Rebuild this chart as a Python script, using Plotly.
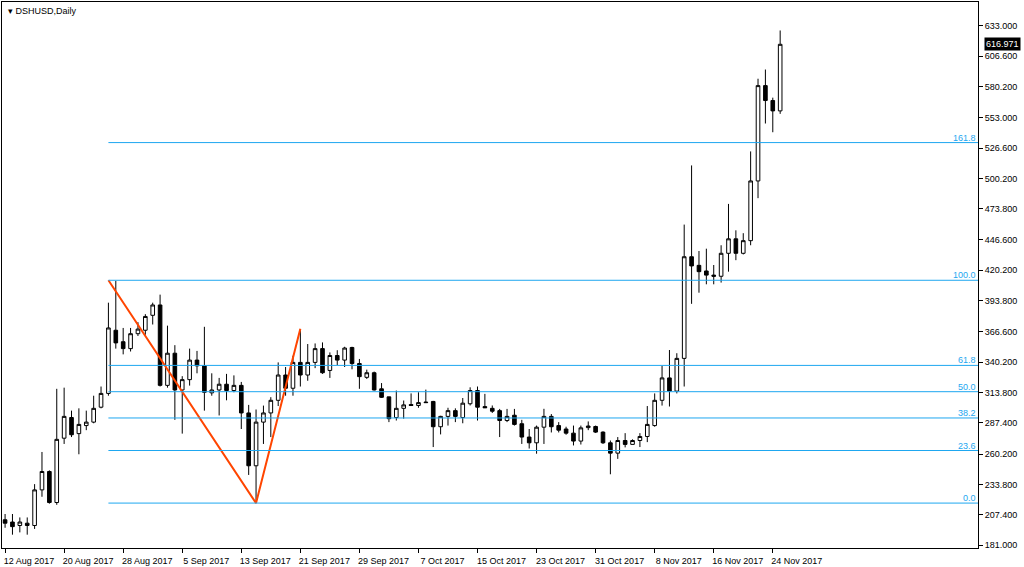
import pandas as pd
import plotly.graph_objects as go

start_date = "2017-08-12"
opens  = [203,201,198,200,198,229,245,218,274,292,278,285,288,301,313,368,358,352,365,368,381,390,320,348,316,325,342,337,313.5,316,321,315.5,320,296,250,288,296,307,329,317.5,340,329,340,
          352,333,346,342,353,339,327,331,317,310,292,300,303.3,302.5,305.5,306,284,293,298,292,304,315.5,301.5,300,298,289.4,294,286.6,275,270,283.6,293,285,282,278.4,271.5,283.2,284.2,279.3,270,261,272,268.6,272,275.5,
          285,307,326.5,315,343.5,432,424.5,419.6,416,415,435,447.6,435,446,498,581,568,559]
closes = [200,197,201,198,229,245,218,273,293,277,286,288,300,313,370,357,352,365,369,380,390,320,348,316,325,342,337,314,316,321,315.5,320,296,250,288,296,307,329,317.5,340,329,340,352,
          331,346,342,352.5,339,327.6,331,316,309.6,291,300,303,302.5,305,305,284,293,298,293,304.5,315.5,301,300.5,297.5,289.4,293,286,275,270,283.6,293,284,281,278.4,271.5,283,284.6,279.3,270,261,272,268.6,272,275.5,286,
          307,326.5,315,343.5,432,424,419,416,415,435,447.6,435,446,498,581,568,559,616.971]
highs  = [208,208,205,205,234,262,246,317,318,298,300,298,311,319,392,411,370,370,375,382,392,399,372,355,328,352,350,371,330.5,326.5,330,328.7,323,303,299,302.4,309.7,340,336,345.8,369,356,356.5,
          357.4,348.7,350.6,353.6,353.6,343,333.7,332,322,310,315.5,306.8,313,314,316.3,306.5,293.5,300.5,300,309,318.3,319,312.6,302.5,299.5,299.5,299.5,290,282,285,299.6,295,288,284,285,285,288.6,285,280,272,275,278.4,273,278.4,302,
          313,337,350.8,348,460,511.5,437,439,424.8,442,478,455,452.5,523.7,587,595,570.5,629]
lows   = [196,190,192,190,195,223,217,216,269,275,260,281,287,300,311,352,347,349.5,363,364,373,319,318,290,278,319.8,330.5,298,311,293.8,307,314,282,242,217.5,269,275,302,311,311,319,324,335,
          330,326.5,337.6,336,334,317,325.6,315.5,309,288,289.4,291,302,300.5,305,266.3,277.3,285,288,287,302.5,289.4,300.5,296,275,288,285,269,265,260.5,269,279,279,277,267.7,268.5,281,278.5,269,242.6,256,266,268.6,266.3,270.6,
          284,302.4,301.6,313,319,391,400.7,408,408,409.5,419,429,434,442,483,548,540.4,556.4]
dates = pd.date_range(start_date, periods=len(opens), freq="D")

fib_low, fib_high = 217.5, 411.5
fib_levels = [0.0, 23.6, 38.2, 50.0, 61.8, 100.0, 161.8]
fib_start = "2017-08-26"
zig_dates = ["2017-08-26", "2017-09-15", "2017-09-21"]
zig_prices = [411.5, 217.5, 369.3]
tick_prices = [181.0, 207.4, 233.8, 260.2, 287.4, 313.8, 340.2, 366.6, 393.8, 420.2,
               446.6, 473.8, 500.2, 526.6, 553.0, 580.2, 606.6, 633.0]
xtick_dates = pd.date_range(start_date, "2017-11-24", freq="8D")

BLUE = "#1EA7F0"
FONT = "Liberation Sans"
fig = go.Figure()
fig.add_trace(go.Candlestick(
    x=dates, open=opens, high=highs, low=lows, close=closes,
    increasing=dict(line=dict(color="black", width=1), fillcolor="white"),
    decreasing=dict(line=dict(color="black", width=1), fillcolor="black"),
    whiskerwidth=0, showlegend=False, hoverinfo="skip"))
fig.add_trace(go.Scatter(x=zig_dates, y=zig_prices, mode="lines",
                         line=dict(color="#FF4500", width=2), showlegend=False, hoverinfo="skip"))

x_start = pd.Timestamp(start_date) - pd.Timedelta(hours=10)
x_end = pd.Timestamp(start_date) + pd.Timedelta(days=131.8)
for lv in fib_levels:
    price = fib_low + (fib_high - fib_low) * lv / 100
    fig.add_shape(type="line", xref="x", yref="y", x0=fib_start, x1=x_end, y0=price, y1=price,
                  line=dict(color=BLUE, width=1))
    fig.add_annotation(xref="paper", yref="y", x=1, y=price, text=f"{lv:.1f}", showarrow=False,
                       xanchor="right", yanchor="bottom", font=dict(color=BLUE, size=9, family=FONT), yshift=-2)

fig.add_annotation(xref="paper", yref="paper", x=0.004, y=0.997, text="▾ DSHUSD,Daily", showarrow=False,
                   xanchor="left", yanchor="top", font=dict(size=9, color="black", family=FONT))
fig.add_annotation(xref="paper", yref="y", x=1, y=closes[-1], text=f"{closes[-1]:.3f}", showarrow=False,
                   xanchor="left", yanchor="middle", bgcolor="black", font=dict(size=9, color="white", family=FONT),
                   xshift=6, borderpad=1)

fig.update_layout(
    width=1024, height=567, margin=dict(l=2, r=46, t=2, b=19, autoexpand=False),
    paper_bgcolor="white", plot_bgcolor="white",
    font=dict(family=FONT, size=9, color="black"),
    xaxis=dict(type="date", range=[x_start, x_end], automargin=False, tickangle=0,
               rangeslider=dict(visible=False), showgrid=False, showline=True, linecolor="black",
               mirror=True, ticks="outside", ticklen=4, tickcolor="black",
               tickvals=list(xtick_dates), ticktext=[d.strftime("%-d %b %Y") for d in xtick_dates],
               ticklabelshift=24, ticklabelstandoff=0, tickfont=dict(size=9)),
    yaxis=dict(side="right", range=[178.4, 653.8], automargin=False, showgrid=False, showline=True,
               linecolor="black", mirror=True, ticks="outside", ticklen=4, tickcolor="black",
               tickvals=tick_prices, ticktext=[f"{v:.3f}" for v in tick_prices], tickfont=dict(size=9)),
)
fig.write_html("out.html", config={"displayModeBar": False},
               post_script="document.body.style.margin='0';document.body.style.overflow='hidden';")
